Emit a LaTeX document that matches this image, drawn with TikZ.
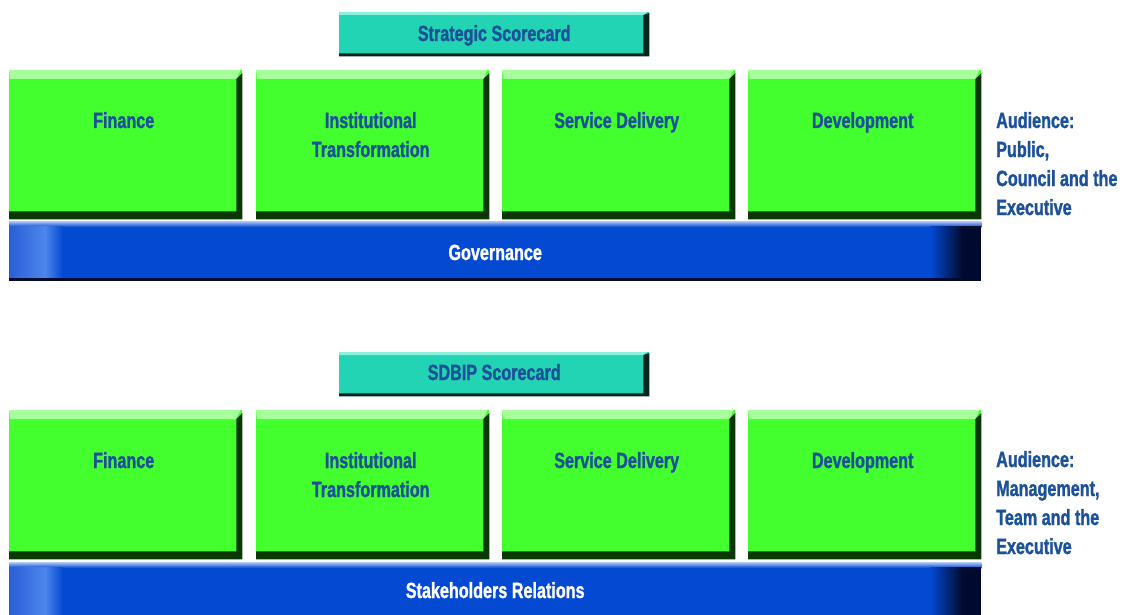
\documentclass[tikz,border=0pt]{standalone}
\usepackage{fontspec}
\newfontfamily\cond{Liberation Sans}[FakeStretch=0.735, FakeBold=1.2]
\usetikzlibrary{calc}
\definecolor{pgreen}{HTML}{44FF2E}
\definecolor{pgreenlt}{HTML}{A6FF9A}
\definecolor{pgreendk}{HTML}{0A3805}
\definecolor{sctea}{HTML}{22D4B4}
\definecolor{sctealt}{HTML}{8CF0DC}
\definecolor{scteadk}{HTML}{05261C}
\definecolor{bbar}{HTML}{0349D2}
\definecolor{bbarlt}{HTML}{4C86EC}
\definecolor{bbarleft}{HTML}{2A5ED6}
\definecolor{bbardk}{HTML}{000A2E}
\definecolor{bbartop}{HTML}{B4CCF4}
\definecolor{txtblue}{HTML}{1A5198}
\newcommand\pillarbevel[1]{%
  \fill[pgreenlt] (#1.north west) -- ($(#1.north east)+(-2,0)$) -- ($(#1.north east)+(-6,9)$) -- ($(#1.north west)+(1,9)$) -- cycle;
  \fill[pgreendk] ($(#1.north east)+(-6,9)$) -- ($(#1.north east)+(0,3)$) -- (#1.south east) -- (#1.south west) -- ($(#1.south west)+(0,-8)$) -- ($(#1.south east)+(-6,-8)$) -- cycle;}
\newcommand\cardbevel[1]{%
  \fill[sctealt] (#1.north west) -- ($(#1.north east)+(-2,0)$) -- ($(#1.north east)+(-6,3)$) -- ($(#1.north west)+(0,3)$) -- cycle;
  \fill[scteadk] ($(#1.north east)+(-6,3)$) -- ($(#1.north east)+(0,1)$) -- (#1.south east) -- (#1.south west) -- ($(#1.south west)+(0,-3)$) -- ($(#1.south east)+(-6,-3)$) -- cycle;}
\newcommand\barshade[1]{%
  \shade[top color=bbartop, bottom color=bbar] (#1.north west) rectangle ($(#1.north east)+(0,6)$);
  \shade[left color=bbarleft, right color=bbarlt] ($(#1.north west)+(0,5)$) rectangle ($(#1.south west)+(36,-3)$);
  \shade[left color=bbarlt, right color=bbar] ($(#1.north west)+(36,5)$) rectangle ($(#1.south west)+(54,-3)$);
  \shade[left color=bbar, right color=bbardk] ($(#1.north east)+(-51,5)$) rectangle ($(#1.south east)+(-19,-3)$);
  \fill[bbardk] ($(#1.north east)+(-19.5,5)$) rectangle (#1.south east);
  \fill[bbardk] ($(#1.south west)+(0,-3)$) rectangle (#1.south east);}
\tikzset{
  pillar/.style={fill=pgreen, minimum width=233pt, minimum height=149pt, inner sep=0pt, anchor=north west},
  card/.style={fill=sctea, minimum width=310pt, minimum height=44pt, inner sep=0pt, anchor=north west},
  bar/.style={fill=bbar, minimum width=972pt, inner sep=0pt, anchor=north west},
  lbl/.style={inner sep=0pt, text=txtblue, font=\cond\bfseries\fontsize{22}{29}\selectfont, align=center},
  wlbl/.style={lbl, text=white},
  aud/.style={lbl, align=left, anchor=base west}
}
\begin{document}
\begin{tikzpicture}[x=1pt,y=-1pt]
\useasboundingbox (0,0) rectangle (1124,615);
\fill[white] (0,0) rectangle (1124,615);
% ---------- top section ----------
\node[card] (sc1) at (339,12) {};
\cardbevel{sc1}
\node[lbl, anchor=base] (sc1t) at ($(sc1.north)+(0,29)$) {Strategic Scorecard};
\node[pillar] (a1) at (9,70) {};
\node[pillar] (a2) at (256,70) {};
\node[pillar] (a3) at (502,70) {};
\node[pillar] (a4) at (748,70) {};
\pillarbevel{a1}\pillarbevel{a2}\pillarbevel{a3}\pillarbevel{a4}
\node[lbl, anchor=base] (a1t) at ($(a1.north)+(-2,58)$) {Finance};
\node[lbl, anchor=base] (a2t) at ($(a2.north)+(-2,87)$) {Institutional\\Transformation};
\node[lbl, anchor=base] (a3t) at ($(a3.north)+(-2,58)$) {Service Delivery};
\node[lbl, anchor=base] (a4t) at ($(a4.north)+(-2,58)$) {Development};
\node[bar, minimum height=60pt] (g1) at (9,221) {};
\barshade{g1}
\node[wlbl, anchor=base] (g1t) at ($(g1.north)+(0,39)$) {Governance};
\node[aud] (au1) at (996,215) {Audience:\\Public,\\Council and the\\Executive};
% ---------- bottom section ----------
\node[card] (sc2) at (339,352) {};
\cardbevel{sc2}
\node[lbl, anchor=base] (sc2t) at ($(sc2.north)+(0,28)$) {SDBIP Scorecard};
\node[pillar] (b1) at (9,410) {};
\node[pillar] (b2) at (256,410) {};
\node[pillar] (b3) at (502,410) {};
\node[pillar] (b4) at (748,410) {};
\pillarbevel{b1}\pillarbevel{b2}\pillarbevel{b3}\pillarbevel{b4}
\node[lbl, anchor=base] (b1t) at ($(b1.north)+(-2,58)$) {Finance};
\node[lbl, anchor=base] (b2t) at ($(b2.north)+(-2,87)$) {Institutional\\Transformation};
\node[lbl, anchor=base] (b3t) at ($(b3.north)+(-2,58)$) {Service Delivery};
\node[lbl, anchor=base] (b4t) at ($(b4.north)+(-2,58)$) {Development};
\node[bar, minimum height=56pt] (g2) at (9,562) {};
\barshade{g2}
\node[wlbl, anchor=base] (g2t) at ($(g2.north)+(0,36)$) {Stakeholders Relations};
\node[aud] (au2) at (996,554) {Audience:\\Management,\\Team and the\\Executive};
\end{tikzpicture}
\end{document}
